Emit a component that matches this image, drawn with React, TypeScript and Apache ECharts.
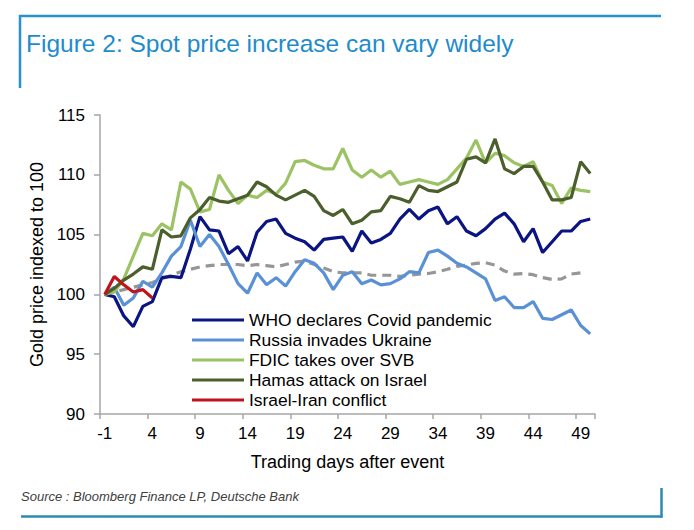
import React, { useEffect, useRef } from "react";
import * as echarts from "echarts";

const days = Array.from({ length: 52 }, (_, i) => String(i - 1));

const whoCovid = [100, 99.8, 98.2, 97.3, 99.0, 99.4, 101.4, 101.5, 101.4, 103.8, 106.5, 105.4, 105.3, 103.4, 104.0, 102.8, 105.2, 106.1, 106.3, 105.1, 104.7, 104.4, 103.7, 104.6, 104.7, 104.8, 103.6, 105.3, 104.3, 104.6, 105.1, 106.3, 107.1, 106.3, 107.0, 107.3, 105.9, 106.5, 105.3, 104.9, 105.5, 106.3, 106.8, 105.9, 104.4, 105.5, 103.5, 104.4, 105.3, 105.3, 106.1, 106.3];
const russiaUkraine = [100, 100.6, 99.1, 99.7, 101.1, 100.6, 101.8, 103.2, 104.0, 106.2, 104.0, 105.0, 104.0, 102.5, 100.9, 100.1, 101.8, 100.8, 101.4, 100.7, 101.9, 102.9, 102.6, 101.8, 100.4, 101.6, 101.9, 100.9, 101.2, 100.8, 100.9, 101.3, 101.9, 101.8, 103.5, 103.7, 103.2, 102.6, 102.3, 101.8, 101.3, 99.5, 99.8, 98.9, 98.9, 99.4, 98.0, 97.9, 98.3, 98.7, 97.4, 96.7];
const fdicSvb = [100, 100.2, 101.3, 103.2, 105.1, 104.9, 105.9, 105.4, 109.4, 108.8, 106.9, 107.1, 110.0, 108.7, 107.6, 108.3, 108.1, 108.7, 108.4, 109.3, 111.1, 111.2, 110.8, 110.5, 110.5, 112.2, 110.4, 109.8, 110.4, 109.8, 110.3, 109.2, 109.4, 109.6, 109.4, 109.2, 109.6, 110.5, 111.4, 112.9, 111.0, 111.8, 111.6, 111.0, 110.7, 111.1, 109.4, 109.1, 107.6, 108.9, 108.7, 108.6];
const hamasIsrael = [100, 100.5, 101.2, 101.7, 102.3, 102.1, 105.4, 104.8, 104.9, 106.4, 107.1, 108.1, 107.8, 107.7, 108.0, 108.3, 109.4, 109.0, 108.3, 107.9, 108.3, 108.7, 108.2, 107.0, 106.6, 107.1, 105.9, 106.2, 106.9, 107.0, 108.2, 108.0, 107.7, 109.1, 108.7, 108.6, 109.0, 109.4, 111.3, 111.5, 111.0, 113.0, 110.5, 110.1, 110.7, 110.7, 109.4, 107.9, 107.9, 108.1, 111.1, 110.1];
const israelIran = [100, 101.5, 100.8, 100.2, 100.4, 99.7];
const average = [100, 100.2, 100.4, 100.6, 100.8, 101.0, 101.3, 101.6, 101.9, 102.1, 102.3, 102.4, 102.5, 102.5, 102.5, 102.4, 102.5, 102.4, 102.3, 102.5, 102.7, 102.8, 102.5, 102.2, 101.9, 101.8, 101.8, 101.8, 101.6, 101.6, 101.6, 101.5, 101.6, 101.7, 101.75, 101.9, 102.1, 102.35, 102.45, 102.6, 102.65, 102.45, 101.95, 101.7, 101.75, 101.65, 101.4, 101.25, 101.3, 101.7, 101.8];

const seriesNames = [
  "WHO declares Covid pandemic",
  "Russia invades Ukraine",
  "FDIC takes over SVB",
  "Hamas attack on Israel",
  "Israel-Iran conflict",
];
const yTicks = { min: 90, max: 115, interval: 5 };

const FONT = '"Liberation Sans", Arial, Helvetica, sans-serif';

export default function App() {
  const ref = useRef<HTMLDivElement>(null);

  useEffect(() => {
    if (!ref.current) return;
    const chart = echarts.init(ref.current, undefined, { renderer: "svg" });
    const axisColor = "#a6a6a6";
    const line = (name: string, data: number[], color: string, z: number, dashed = false) => ({
      name,
      type: "line",
      data,
      symbol: "none",
      showSymbol: false,
      z,
      lineStyle: { color, width: 3.2, type: dashed ? [9, 6] : "solid" },
      itemStyle: { color },
      emphasis: { disabled: true },
    });
    chart.setOption({
      animation: false,
      textStyle: { fontFamily: FONT },
      grid: { left: 100, right: 99, top: 115, bottom: 116, containLabel: false },
      legend: {
        data: seriesNames,
        orient: "vertical",
        left: 192,
        top: 310,
        padding: 0,
        itemGap: 0,
        itemWidth: 52,
        itemHeight: 3.2,
        icon: "rect",
        textStyle: { fontSize: 17.4, color: "#000", lineHeight: 20, fontFamily: FONT },
      },
      xAxis: {
        type: "category",
        data: days,
        boundaryGap: true,
        name: "Trading days after event",
        nameLocation: "middle",
        nameGap: 39,
        nameTextStyle: { fontSize: 18, color: "#000", fontFamily: FONT },
        axisLine: { lineStyle: { color: axisColor, width: 1.5 } },
        axisTick: { show: true, interval: 4, length: 5, alignWithLabel: false, lineStyle: { color: axisColor, width: 1.5 } },
        axisLabel: { interval: 4, fontSize: 17, color: "#000", margin: 11, fontFamily: FONT },
        splitLine: { show: false },
      },
      yAxis: {
        type: "value",
        min: yTicks.min,
        max: yTicks.max,
        interval: yTicks.interval,
        name: "Gold price indexed to 100",
        nameLocation: "middle",
        nameRotate: 90,
        nameGap: 50,
        nameTextStyle: { fontSize: 18, color: "#000", fontFamily: FONT },
        axisLine: { show: true, lineStyle: { color: axisColor, width: 1.5 } },
        axisTick: { show: true, length: 6, lineStyle: { color: axisColor, width: 1.5 } },
        axisLabel: { fontSize: 17, color: "#000", margin: 15, fontFamily: FONT },
        splitLine: { show: false },
      },
      series: [
        line("Average", average, "#969696", 1, true),
        line(seriesNames[0], whoCovid, "#0a1482", 2),
        line(seriesNames[1], russiaUkraine, "#5a91d6", 3),
        line(seriesNames[2], fdicSvb, "#9bc364", 4),
        line(seriesNames[3], hamasIsrael, "#4b5f2d", 5),
        line(seriesNames[4], israelIran, "#c0141c", 6),
      ],
      graphic: [
        { type: "line", shape: { x1: 19, y1: 16, x2: 661, y2: 16 }, style: { stroke: "#2a91cf", lineWidth: 2.5 } },
        { type: "line", shape: { x1: 20, y1: 15, x2: 20, y2: 88 }, style: { stroke: "#2a91cf", lineWidth: 2.5 } },
        {
          type: "text",
          x: 26,
          y: 43,
          style: {
            text: "Figure 2: Spot price increase can vary widely",
            font: `24.5px ${FONT}`,
            fill: "#1e8ccc",
            textVerticalAlign: "middle",
            verticalAlign: "middle",
          },
        },
        {
          type: "text",
          x: 21,
          y: 496,
          style: {
            text: "Source : Bloomberg Finance LP, Deutsche Bank",
            font: `italic 13px ${FONT}`,
            fill: "#404040",
            textVerticalAlign: "middle",
            verticalAlign: "middle",
          },
        },
        { type: "line", shape: { x1: 21, y1: 516.5, x2: 662.5, y2: 516.5 }, style: { stroke: "#2a8ab2", lineWidth: 2.5 } },
        { type: "line", shape: { x1: 661.5, y1: 488, x2: 661.5, y2: 517.5 }, style: { stroke: "#2a8ab2", lineWidth: 2.5 } },
      ],
    });
    return () => chart.dispose();
  }, []);

  return (
    <div
      ref={ref}
      style={{ position: "absolute", left: 0, top: 0, width: 694, height: 530, background: "#fff" }}
    />
  );
}
